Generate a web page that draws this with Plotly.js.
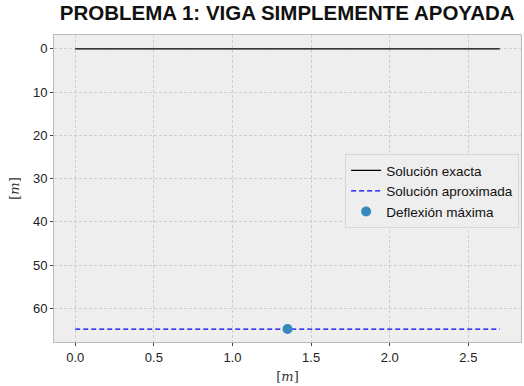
<!DOCTYPE html>
<html><head><meta charset="utf-8">
<script src="https://cdn.plot.ly/plotly-3.0.1.min.js"></script>
<style>html,body{margin:0;padding:0;background:#fff}#c{width:524px;height:386px}</style>
</head><body><div id="c"></div>
<script>
const xExact = [0, 2.7];
const yExact = [0, 0];
const xApprox = [0, 2.7];
const yApprox = [64.8, 64.8];
const xMax = [1.35];
const yMax = [64.8];
const names = ["Solución exacta", "Solución aproximada", "Deflexión máxima"];
const xTicks = [0, 0.5, 1, 1.5, 2, 2.5];
const xTickText = ["0.0", "0.5", "1.0", "1.5", "2.0", "2.5"];
const yTicks = [0, 10, 20, 30, 40, 50, 60];

const traces = [
  {x: xExact, y: yExact, mode: "lines", name: names[0], line: {color: "#000000", width: 1.4}},
  {x: xApprox, y: yApprox, mode: "lines", name: names[1], line: {color: "#0000ff", width: 1.3, dash: "5px,3px"}},
  {x: xMax, y: yMax, mode: "markers", name: names[2], marker: {color: "#348abd", size: 10}}
];
const axisCommon = {
  showline: true, linecolor: "#bcbcbc", linewidth: 1, mirror: true,
  gridcolor: "#c6c6c6", griddash: "3px,2px", gridwidth: 0.8,
  ticks: "outside", ticklen: 3, tickcolor: "#444", zeroline: false,
  tickfont: {family: "Liberation Sans, Arial, sans-serif", size: 13, color: "#222"}
};
const layout = {
  width: 524, height: 386,
  margin: {l: 54, r: 3, t: 35, b: 44},
  paper_bgcolor: "#ffffff", plot_bgcolor: "#eeeeee",
  title: {text: "<b>PROBLEMA 1: VIGA SIMPLEMENTE APOYADA</b>", x: 0.548, xanchor: "center", y: 0.985, yanchor: "top",
    font: {family: "Liberation Sans, Arial, sans-serif", size: 20.5, color: "#111"}},
  xaxis: Object.assign({}, axisCommon, {range: [-0.135, 2.835], tickvals: xTicks, ticktext: xTickText,
    title: {text: "[<i>m</i>]", standoff: 8, font: {family: "DejaVu Serif, serif", size: 13, color: "#333"}}}),
  yaxis: Object.assign({}, axisCommon, {range: [67.8, -3.2], tickvals: yTicks,
    title: {text: "[<i>m</i>]", standoff: 10, font: {family: "DejaVu Serif, serif", size: 13, color: "#333"}}}),
  showlegend: true,
  legend: {x: 0.996, xanchor: "right", y: 0.612, yanchor: "top", bgcolor: "#eeeeee", bordercolor: "#d6d6d6", borderwidth: 1,
    font: {family: "Liberation Sans, Arial, sans-serif", size: 13.5, color: "#111"}, tracegroupgap: 0, itemwidth: 30}
};
Plotly.newPlot("c", traces, layout, {displayModeBar: false, staticPlot: true});
</script></body></html>
